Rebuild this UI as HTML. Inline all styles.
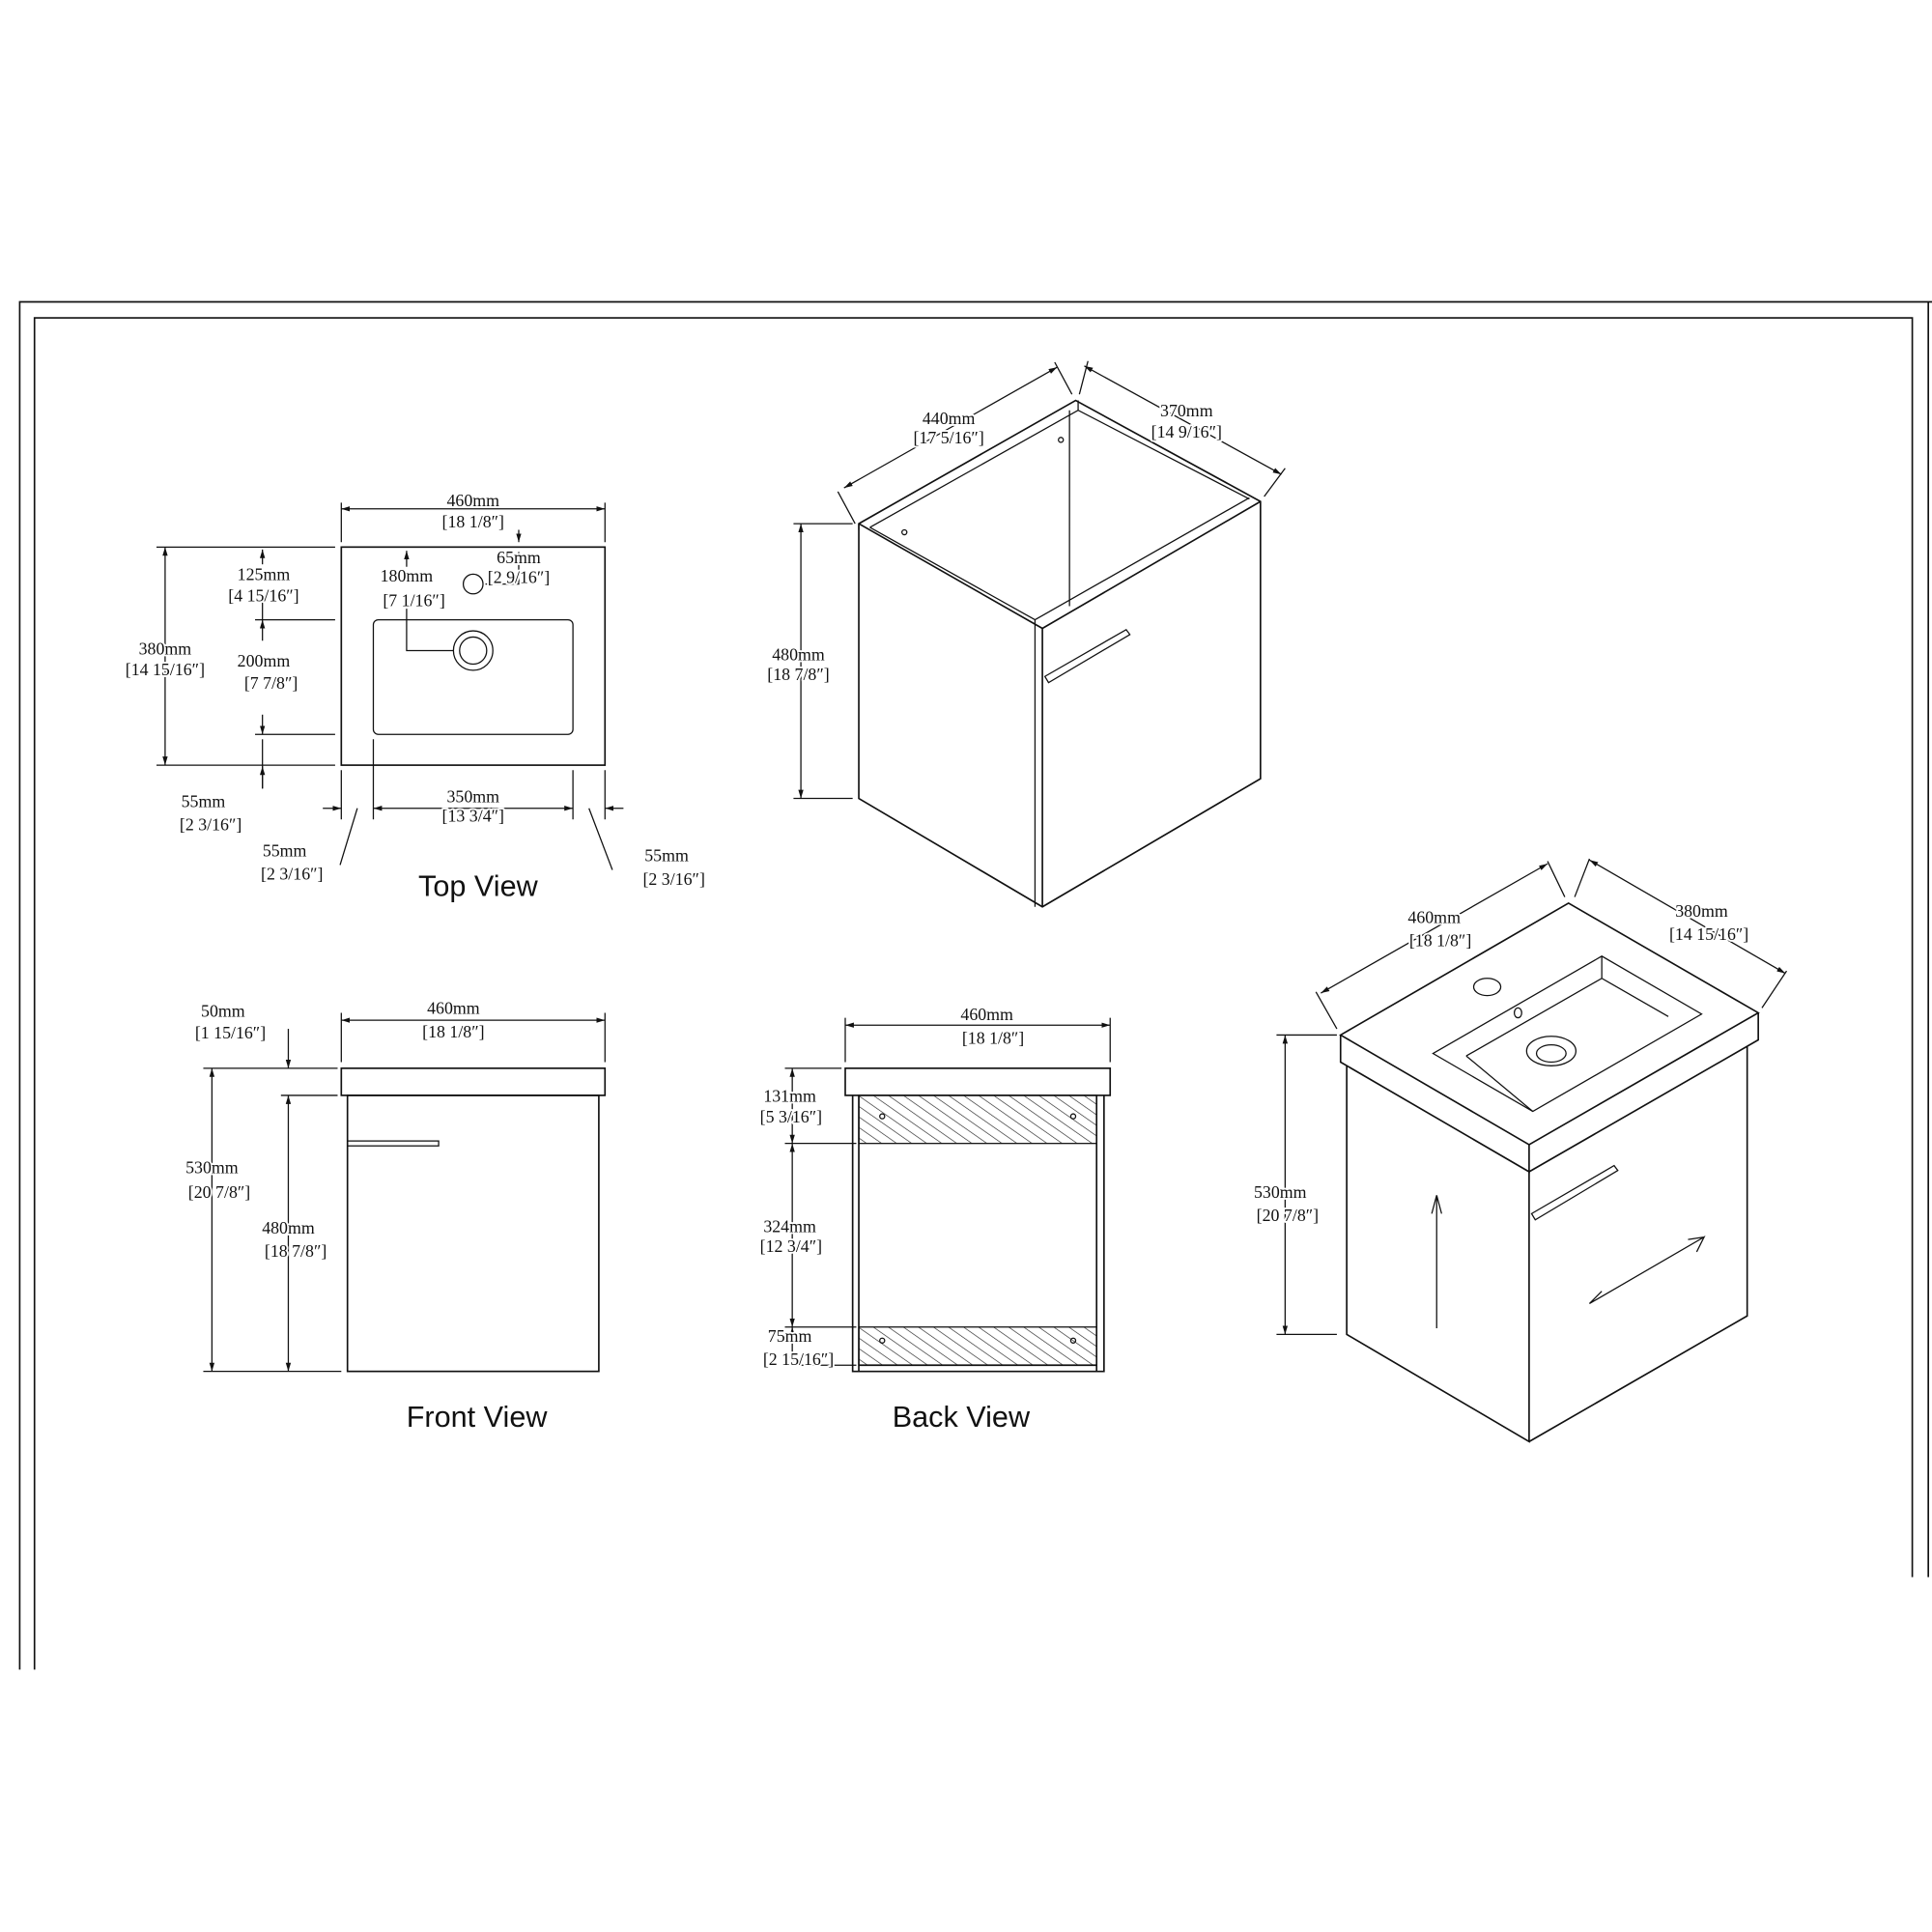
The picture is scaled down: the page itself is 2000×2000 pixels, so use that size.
<!DOCTYPE html>
<html><head><meta charset="utf-8"><style>
html,body{margin:0;padding:0;background:#fff}
svg{display:block}
text{font-family:"Liberation Serif",serif;font-size:14px;fill:#111;paint-order:stroke;stroke:#fff;stroke-width:3px;stroke-linejoin:round}
.t{font-family:"Liberation Sans",sans-serif;font-size:24px;stroke:none}
</style></head><body>
<svg width="2000" height="2000" viewBox="0 0 1568 1568" xmlns="http://www.w3.org/2000/svg">
<defs>
<marker id="a" viewBox="0 0 10 10" refX="10" refY="5" markerWidth="7" markerHeight="7" orient="auto-start-reverse"><path d="M0,2 L10,5 L0,8z" fill="#111"/></marker>
<pattern id="h" width="7" height="7" patternUnits="userSpaceOnUse" patternTransform="rotate(-55)"><line x1="0" y1="0" x2="0" y2="7" stroke="#222" stroke-width="1"/></pattern>
</defs>
<g fill="none" stroke="#111" stroke-width="1.3">
<path d="M16,1355 V245 H1568 M28,1355 V258 H1552 V1280 M1565,245 V1280"/>
</g>
<g fill="none" stroke="#111" stroke-width="1">
<!-- TOP VIEW -->
<rect x="277" y="444" width="214" height="177" stroke-width="1.3"/>
<rect x="303" y="503" width="162" height="93" rx="4"/>
<circle cx="384" cy="528" r="16"/><circle cx="384" cy="528" r="11"/>
<circle cx="384" cy="474" r="8"/>
<path d="M277,408 V440 M491,408 V440"/>
<line x1="277" y1="413" x2="491" y2="413" marker-start="url(#a)" marker-end="url(#a)"/>
<path d="M127,444 H272 M127,621 H272"/>
<line x1="134" y1="444" x2="134" y2="621" marker-start="url(#a)" marker-end="url(#a)"/>
<line x1="213" y1="446" x2="213" y2="458" marker-start="url(#a)"/>
<path d="M213,486 V503 M207,503 H272 M207,596 H272"/>
<line x1="213" y1="503" x2="213" y2="520" marker-start="url(#a)"/>
<line x1="213" y1="580" x2="213" y2="596" marker-end="url(#a)"/>
<path d="M213,600 V640"/>
<line x1="213" y1="622" x2="213" y2="640" marker-start="url(#a)"/>
<line x1="330" y1="447" x2="330" y2="460" marker-start="url(#a)"/>
<path d="M330,494 V528 H368"/>
<line x1="421" y1="430" x2="421" y2="440" marker-end="url(#a)"/>
<path d="M421,448 V474 H394"/>
<path d="M277,625 V665 M303,600 V665 M465,625 V665 M491,625 V665"/>
<line x1="262" y1="656" x2="277" y2="656" marker-end="url(#a)"/>
<line x1="303" y1="656" x2="465" y2="656" marker-start="url(#a)" marker-end="url(#a)"/>
<line x1="491" y1="656" x2="506" y2="656" marker-start="url(#a)"/>
<path d="M290,656 L276,702 M478,656 L497,706"/>
<!-- ISO 1 -->
<g stroke-width="1.3">
<path d="M697,425 L873,325 L1023,407 L1023,632 L846,736 L697,648 Z"/>
<path d="M846,510 L846,736 M697,425 L846,510 L1023,407"/>
</g>
<path d="M706,428 L875,333 L1014,405 M840,503 L1014,404 M706,428 L840,503 M868,333 V492 M840,503 V736 M875,325 V333 M697,425 V430"/>
<path d="M848,549 L914,511 L917,515 L851,554 Z"/>
<circle cx="861" cy="357" r="2"/><circle cx="734" cy="432" r="2"/>
<path d="M694,425 L680,399 M870,320 L856,294 M876,320 L883,293 M1026,403 L1043,380"/>
<line x1="685" y1="396" x2="858" y2="298" marker-start="url(#a)" marker-end="url(#a)"/>
<line x1="880" y1="297" x2="1040" y2="385" marker-start="url(#a)" marker-end="url(#a)"/>
<path d="M644,425 H692 M644,648 H692"/>
<line x1="650" y1="425" x2="650" y2="648" marker-start="url(#a)" marker-end="url(#a)"/>
<!-- FRONT VIEW -->
<rect x="277" y="867" width="214" height="22" stroke-width="1.3"/>
<rect x="282" y="889" width="204" height="224" stroke-width="1.3"/>
<rect x="282" y="926" width="74" height="4"/>
<path d="M277,822 V862 M491,822 V862"/>
<line x1="277" y1="828" x2="491" y2="828" marker-start="url(#a)" marker-end="url(#a)"/>
<path d="M165,867 H274 M165,1113 H277 M228,889 H274"/>
<line x1="172" y1="867" x2="172" y2="1113" marker-start="url(#a)" marker-end="url(#a)"/>
<line x1="234" y1="889" x2="234" y2="1113" marker-start="url(#a)" marker-end="url(#a)"/>
<line x1="234" y1="835" x2="234" y2="867" marker-end="url(#a)"/>
<!-- BACK VIEW -->
<rect x="686" y="867" width="215" height="22" stroke-width="1.3"/>
<rect x="697" y="889" width="193" height="39" fill="url(#h)"/>
<rect x="697" y="1077" width="193" height="31" fill="url(#h)"/>
<path d="M692,889 V1113 H896 V889 M697,889 V1113 M890,889 V1113 M697,1108 H890" stroke-width="1.3"/>
<circle cx="716" cy="906" r="2"/><circle cx="871" cy="906" r="2"/><circle cx="716" cy="1088" r="2"/><circle cx="871" cy="1088" r="2"/>
<path d="M686,826 V862 M901,826 V862"/>
<line x1="686" y1="832" x2="901" y2="832" marker-start="url(#a)" marker-end="url(#a)"/>
<path d="M637,867 H683 M637,928 H695 M637,1077 H695 M637,1108 H695"/>
<line x1="643" y1="867" x2="643" y2="928" marker-start="url(#a)" marker-end="url(#a)"/>
<line x1="643" y1="928" x2="643" y2="1077" marker-start="url(#a)" marker-end="url(#a)"/>
<line x1="643" y1="1077" x2="643" y2="1108" marker-start="url(#a)" marker-end="url(#a)"/>
<!-- ISO 2 -->
<g stroke-width="1.3">
<path d="M1088,840 L1273,733 L1427,822 L1241,929 Z"/>
<path d="M1088,840 V862 L1241,951 V929 M1241,951 L1427,844 V822"/>
<path d="M1093,865 V1083 L1241,1170 V951 M1241,1170 L1418,1068 V849"/>
</g>
<path d="M1163,855 L1300,776 L1381,823 L1244,902 Z"/>
<path d="M1190,857 L1300,794 L1300,776 M1300,794 L1354,825 M1190,857 L1244,902"/>
<ellipse cx="1259" cy="853" rx="20" ry="12"/><ellipse cx="1259" cy="855" rx="12" ry="7"/>
<ellipse cx="1207" cy="801" rx="11" ry="7"/>
<ellipse cx="1232" cy="822" rx="3" ry="4"/>
<path d="M1243,985 L1310,946 L1313,950 L1246,990 Z"/>
<path d="M1166,970 L1162,985 M1166,970 L1170,985 M1166,970 V1078"/>
<path d="M1290,1058 L1383,1004 L1377,1016 M1383,1004 L1370,1006 M1290,1058 L1300,1048"/>
<path d="M1085,835 L1068,805 M1270,728 L1256,699 M1278,728 L1290,697 M1430,818 L1450,788"/>
<line x1="1072" y1="806" x2="1256" y2="701" marker-start="url(#a)" marker-end="url(#a)"/>
<line x1="1290" y1="698" x2="1449" y2="790" marker-start="url(#a)" marker-end="url(#a)"/>
<path d="M1036,840 H1085 M1036,1083 H1085"/>
<line x1="1043" y1="840" x2="1043" y2="1083" marker-start="url(#a)" marker-end="url(#a)"/>
</g>
<g text-anchor="middle">
<text x="384" y="411">460mm</text><text x="384" y="428">[18 1/8″]</text>
<text x="134" y="531">380mm</text><text x="134" y="548">[14 15/16″]</text>
<text x="214" y="471">125mm</text><text x="214" y="488">[4 15/16″]</text>
<text x="330" y="472">180mm</text><text x="336" y="492">[7 1/16″]</text>
<text x="421" y="457">65mm</text><text x="421" y="473">[2 9/16″]</text>
<text x="214" y="541">200mm</text><text x="220" y="559">[7 7/8″]</text>
<text x="165" y="655">55mm</text><text x="171" y="674">[2 3/16″]</text>
<text x="384" y="651">350mm</text><text x="384" y="667">[13 3/4″]</text>
<text x="231" y="695">55mm</text><text x="237" y="714">[2 3/16″]</text>
<text x="541" y="699">55mm</text><text x="547" y="718">[2 3/16″]</text>
<text class="t" x="388" y="727">Top View</text>
<text x="770" y="344">440mm</text><text x="770" y="360">[17 5/16″]</text>
<text x="963" y="338">370mm</text><text x="963" y="355">[14 9/16″]</text>
<text x="648" y="536">480mm</text><text x="648" y="552">[18 7/8″]</text>
<text x="181" y="825">50mm</text><text x="187" y="843">[1 15/16″]</text>
<text x="368" y="823">460mm</text><text x="368" y="842">[18 1/8″]</text>
<text x="172" y="952">530mm</text><text x="178" y="972">[20 7/8″]</text>
<text x="234" y="1001">480mm</text><text x="240" y="1020">[18 7/8″]</text>
<text class="t" x="387" y="1158">Front View</text>
<text x="801" y="828">460mm</text><text x="806" y="847">[18 1/8″]</text>
<text x="641" y="894">131mm</text><text x="642" y="911">[5 3/16″]</text>
<text x="641" y="1000">324mm</text><text x="642" y="1016">[12 3/4″]</text>
<text x="641" y="1089">75mm</text><text x="648" y="1108">[2 15/16″]</text>
<text class="t" x="780" y="1158">Back View</text>
<text x="1164" y="749">460mm</text><text x="1169" y="768">[18 1/8″]</text>
<text x="1381" y="744">380mm</text><text x="1387" y="763">[14 15/16″]</text>
<text x="1039" y="972">530mm</text><text x="1045" y="991">[20 7/8″]</text>
</g>
</svg>
</body></html>
